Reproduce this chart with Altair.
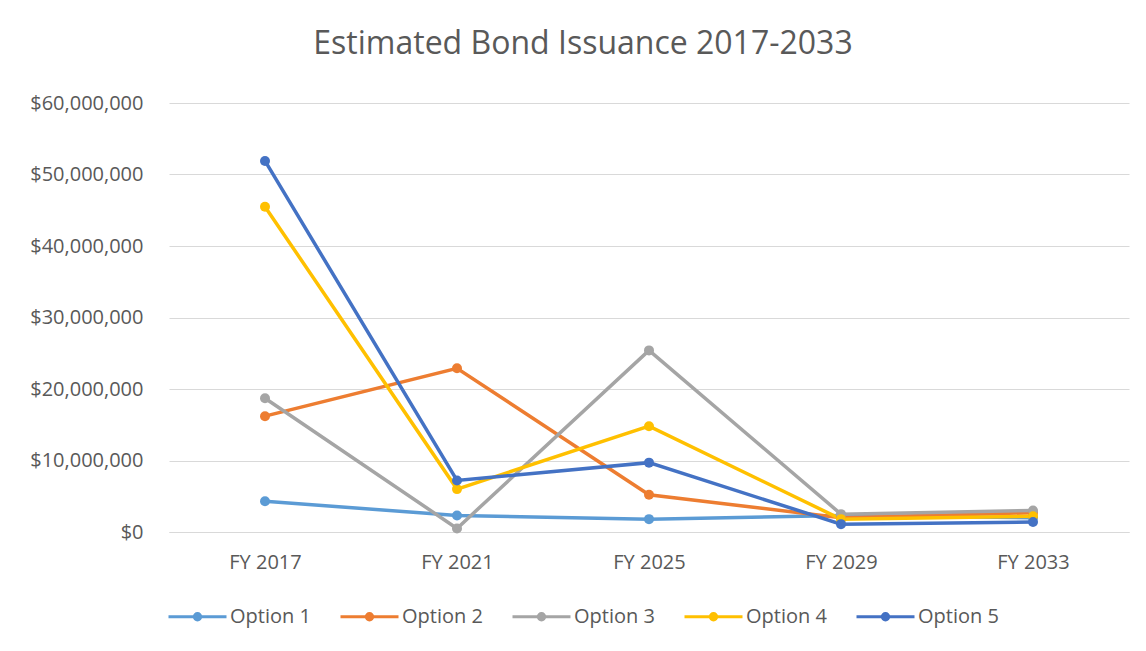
import altair as alt
import pandas as pd

years = ["FY 2017", "FY 2021", "FY 2025", "FY 2029", "FY 2033"]
option_1 = [4300000, 2300000, 1800000, 2300000, 2000000]
option_2 = [16200000, 22900000, 5200000, 2000000, 2700000]
option_3 = [18700000, 500000, 25400000, 2500000, 3000000]
option_4 = [45500000, 6000000, 14800000, 1800000, 2200000]
option_5 = [51900000, 7200000, 9700000, 1100000, 1400000]
series_names = ["Option 1", "Option 2", "Option 3", "Option 4", "Option 5"]
series_colors = ["#5B9BD5", "#ED7D31", "#A5A5A5", "#FFC000", "#4472C4"]

rows = []
for name, vals in zip(series_names, [option_1, option_2, option_3, option_4, option_5]):
    for y, v in zip(years, vals):
        rows.append({"Year": y, "Series": name, "Value": v})
df = pd.DataFrame(rows)

FONT = "Open Sans"
GRAY = "#595959"

color = alt.Color(
    "Series:N",
    scale=alt.Scale(domain=series_names, range=series_colors),
    legend=alt.Legend(
        title=None,
        orient="none",
        direction="horizontal",
        columns=5,
        legendX=-2,
        legendY=483,
        symbolType="M-1,0H1M0.11,0A0.11,0.11,0,1,1,-0.11,0A0.11,0.11,0,1,1,0.11,0M0.05,0A0.05,0.05,0,1,1,-0.05,0A0.05,0.05,0,1,1,0.05,0",
        symbolSize=3364,
        symbolStrokeWidth=3,
        labelFont=FONT,
        labelFontSize=20,
        labelColor=GRAY,
        labelOffset=2,
        columnPadding=23,
    ),
)

x = alt.X(
    "Year:O",
    sort=years,
    scale=alt.Scale(type="point", padding=0.5),
    axis=alt.Axis(
        title=None, labelAngle=0, ticks=False, domain=True, domainColor="#D9D9D9",
        labelPadding=20, labelFont=FONT, labelFontSize=20, labelColor=GRAY, grid=False,
    ),
)
y = alt.Y(
    "Value:Q",
    scale=alt.Scale(domain=[0, 60000000], nice=False),
    axis=alt.Axis(
        title=None, format="$,.0f", values=[0, 10000000, 20000000, 30000000, 40000000, 50000000, 60000000],
        ticks=False, domain=False, labelPadding=26, labelFont=FONT, labelFontSize=20,
        labelColor=GRAY, gridColor="#D9D9D9", gridWidth=1,
    ),
)

base = alt.Chart(df)
lines = base.mark_line(strokeWidth=3.5).encode(x=x, y=y, color=color, detail="Series:N")
points = base.mark_circle(size=100, opacity=1).encode(x=x, y=y, color=color)

chart = (
    alt.layer(lines, points)
    .properties(
        width=960,
        height=429,
        autosize=alt.AutoSizeParams(type="none"),
        padding={"left": 169, "top": 103, "right": 17, "bottom": 119},
        title=alt.TitleParams(
            "Estimated Bond Issuance 2017-2033",
            font=FONT, fontSize=32, fontWeight="normal", color=GRAY,
            anchor="middle", dx=-66, offset=32,
        ),
        background="white",
    )
    .configure_view(stroke=None)
)

chart.save("out.html", embed_options={"renderer": "svg", "actions": False})
